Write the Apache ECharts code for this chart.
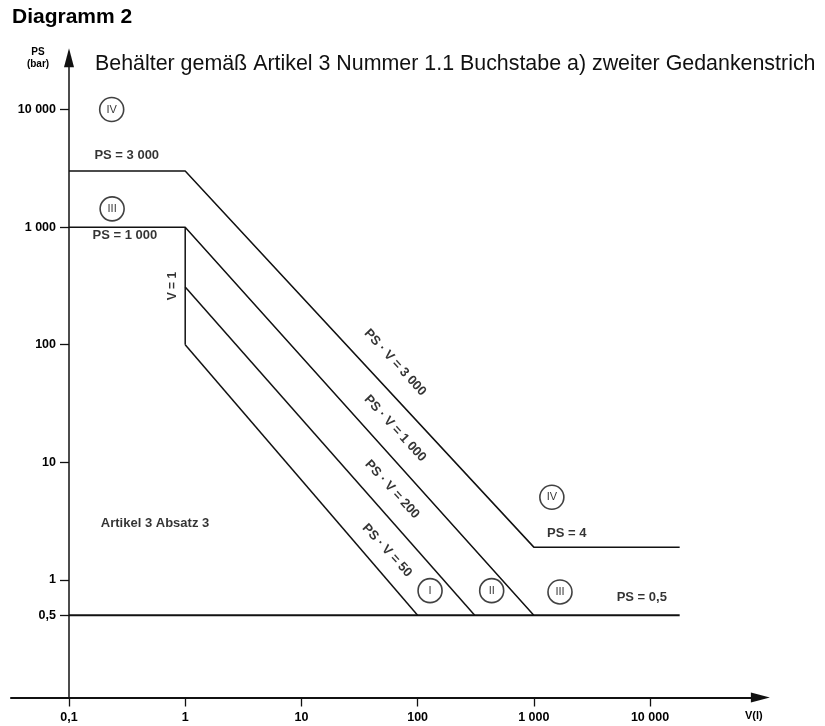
<!DOCTYPE html>
<html>
<head>
<meta charset="utf-8">
<script src="https://cdn.jsdelivr.net/npm/echarts@6/dist/echarts.min.js"></script>
<style>html,body{margin:0;padding:0;background:#fff;}#c{width:825px;height:726px;}</style>
</head>
<body>
<div id="c"></div>
<script>
// ---- data (V in litres, PS in bar) ----
const xTickValues = [0.1, 1, 10, 100, 1000, 10000];
const xTickLabels = ['0,1', '1', '10', '100', '1 000', '10 000'];
const yTickValues = [0.5, 1, 10, 100, 1000, 10000];
const yTickLabels = ['0,5', '1', '10', '100', '1 000', '10 000'];

// boundary lines
const line3000V  = [0.1, 1, 1000, 18000];
const line3000PS = [3000, 3000, 1.9, 1.9];
const line1000V  = [0.1, 1, 1000];
const line1000PS = [1000, 1000, 0.5];
const lineV1V    = [1, 1];
const lineV1PS   = [1000, 100];
const line200V   = [1, 310];
const line200PS  = [310, 0.5];
const line50V    = [1, 100];
const line50PS   = [100, 0.5];
const line05V    = [0.1, 18000];
const line05PS   = [0.5, 0.5];

// category markers (roman numerals in circles)
const catNames = ['IV', 'III', 'I', 'II', 'III', 'IV'];
const catV     = [0.233, 0.235, 128, 434, 1680, 1430];
const catPS    = [10000, 1430, 0.81, 0.81, 0.79, 5.05];

// text annotations
const noteTexts = ['PS = 3 000', 'PS = 1 000', 'Artikel 3 Absatz 3', 'PS = 4', 'PS = 0,5'];
const noteV     = [0.314, 0.303, 0.55, 1919, 8490];
const notePS    = [4100, 857, 3.05, 2.47, 0.713];

const diagTexts = ['PS · V = 3 000', 'PS · V = 1 000', 'PS · V = 200', 'PS · V = 50'];
const diagV     = [63.9, 63.9, 60.3, 54.6];
const diagPS    = [70.6, 19.4, 5.88, 1.78];

const vTexts = ['V = 1'];
const vV     = [0.786];
const vPS    = [315];

// ---- build ----
const FONT = '"Liberation Sans", Arial, Helvetica, sans-serif';
const INK = '#000';
const zip = (a, b) => a.map((v, i) => [v, b[i]]);
const fmt = (vals, labels) => (v) => {
  for (let i = 0; i < vals.length; i++) {
    if (Math.abs(Math.log10(v) - Math.log10(vals[i])) < 1e-6) return labels[i];
  }
  return '';
};

const lineSeries = (V, PS, w) => ({
  type: 'line', data: zip(V, PS), symbol: 'none', silent: true,
  lineStyle: { color: '#111', width: w || 1.5 }, animation: false, z: 3
});

const textSeries = (texts, V, PS, rotate, size, weight) => ({
  type: 'scatter', symbolSize: 0, silent: true, animation: false, z: 5,
  data: texts.map((t, i) => ({ value: [V[i], PS[i]], name: t })),
  label: {
    show: true, position: 'inside', formatter: '{b}', rotate: rotate,
    color: INK, fontSize: size, fontWeight: weight || 'bold', fontFamily: FONT
  }
});

const chart = echarts.init(document.getElementById('c'), null, { renderer: 'canvas' });
chart.setOption({
  backgroundColor: '#fff',
  animation: false,
  title: [
    { text: 'Diagramm 2', left: 12, top: 7, padding: 0,
      textStyle: { fontSize: 21, fontWeight: 'bold', color: INK, fontFamily: FONT } },
    { text: 'Behälter gemäß Artikel 3 Nummer 1.1 Buchstabe a) zweiter Gedankenstrich', left: 95, top: 54, padding: 0,
      textStyle: { fontSize: 21.4, fontWeight: 'normal', color: '#111', fontFamily: FONT } },
    { text: 'PS\n(bar)', left: 38, top: 46, textAlign: 'center', padding: 0,
      textStyle: { fontSize: 10, fontWeight: 'bold', lineHeight: 12, color: INK, fontFamily: FONT, align: 'center' } },
    { text: 'V(l)', left: 745, top: 710, padding: 0,
      textStyle: { fontSize: 11, fontWeight: 'bold', color: INK, fontFamily: FONT } }
  ],
  grid: { left: 10.9, top: 57.8, right: 64.6, bottom: 28.5, containLabel: false },
  xAxis: {
    type: 'log', logBase: 10, min: Math.pow(10, -1.5), max: Math.pow(10, 4.95),
    axisLine: { show: true, symbol: ['none', 'triangle'], symbolSize: [10, 19], lineStyle: { color: '#111', width: 1.8 } },
    axisTick: { show: true, customValues: xTickValues, length: 9, lineStyle: { color: '#111', width: 1.3 } },
    axisLabel: { show: true, customValues: xTickValues, formatter: fmt(xTickValues, xTickLabels),
      fontSize: 12.5, fontWeight: 'bold', color: INK, fontFamily: FONT, margin: 14 },
    splitLine: { show: false }, minorTick: { show: false }
  },
  yAxis: {
    type: 'log', logBase: 10, min: 0.1, max: Math.pow(10, 4.44), position: 'left', offset: -58.1,
    axisLine: { show: true, symbol: ['none', 'triangle'], symbolSize: [10, 19], lineStyle: { color: '#111', width: 1.5 } },
    axisTick: { show: true, customValues: yTickValues, length: 9, lineStyle: { color: '#111', width: 1.3 } },
    axisLabel: { show: true, customValues: yTickValues, formatter: fmt(yTickValues, yTickLabels),
      fontSize: 12.5, fontWeight: 'bold', color: INK, fontFamily: FONT, margin: 13 },
    splitLine: { show: false }, minorTick: { show: false }
  },
  series: [
    lineSeries(line3000V, line3000PS),
    lineSeries(line1000V, line1000PS),
    lineSeries(lineV1V, lineV1PS),
    lineSeries(line200V, line200PS),
    lineSeries(line50V, line50PS),
    lineSeries(line05V, line05PS, 2),
    {
      type: 'scatter', silent: true, animation: false, z: 6,
      symbol: 'circle', symbolSize: 24,
      itemStyle: { color: 'rgba(255,255,255,0)', borderColor: '#111', borderWidth: 1.6 },
      data: catNames.map((t, i) => ({ value: [catV[i], catPS[i]], name: t })),
      label: { show: true, position: 'inside', formatter: '{b}', color: INK, fontSize: 11, fontWeight: 'normal', fontFamily: FONT }
    },
    textSeries(noteTexts, noteV, notePS, 0, 13),
    textSeries(diagTexts, diagV, diagPS, -47.5, 13),
    textSeries(vTexts, vV, vPS, 90, 12)
  ]
});
</script>
</body>
</html>
